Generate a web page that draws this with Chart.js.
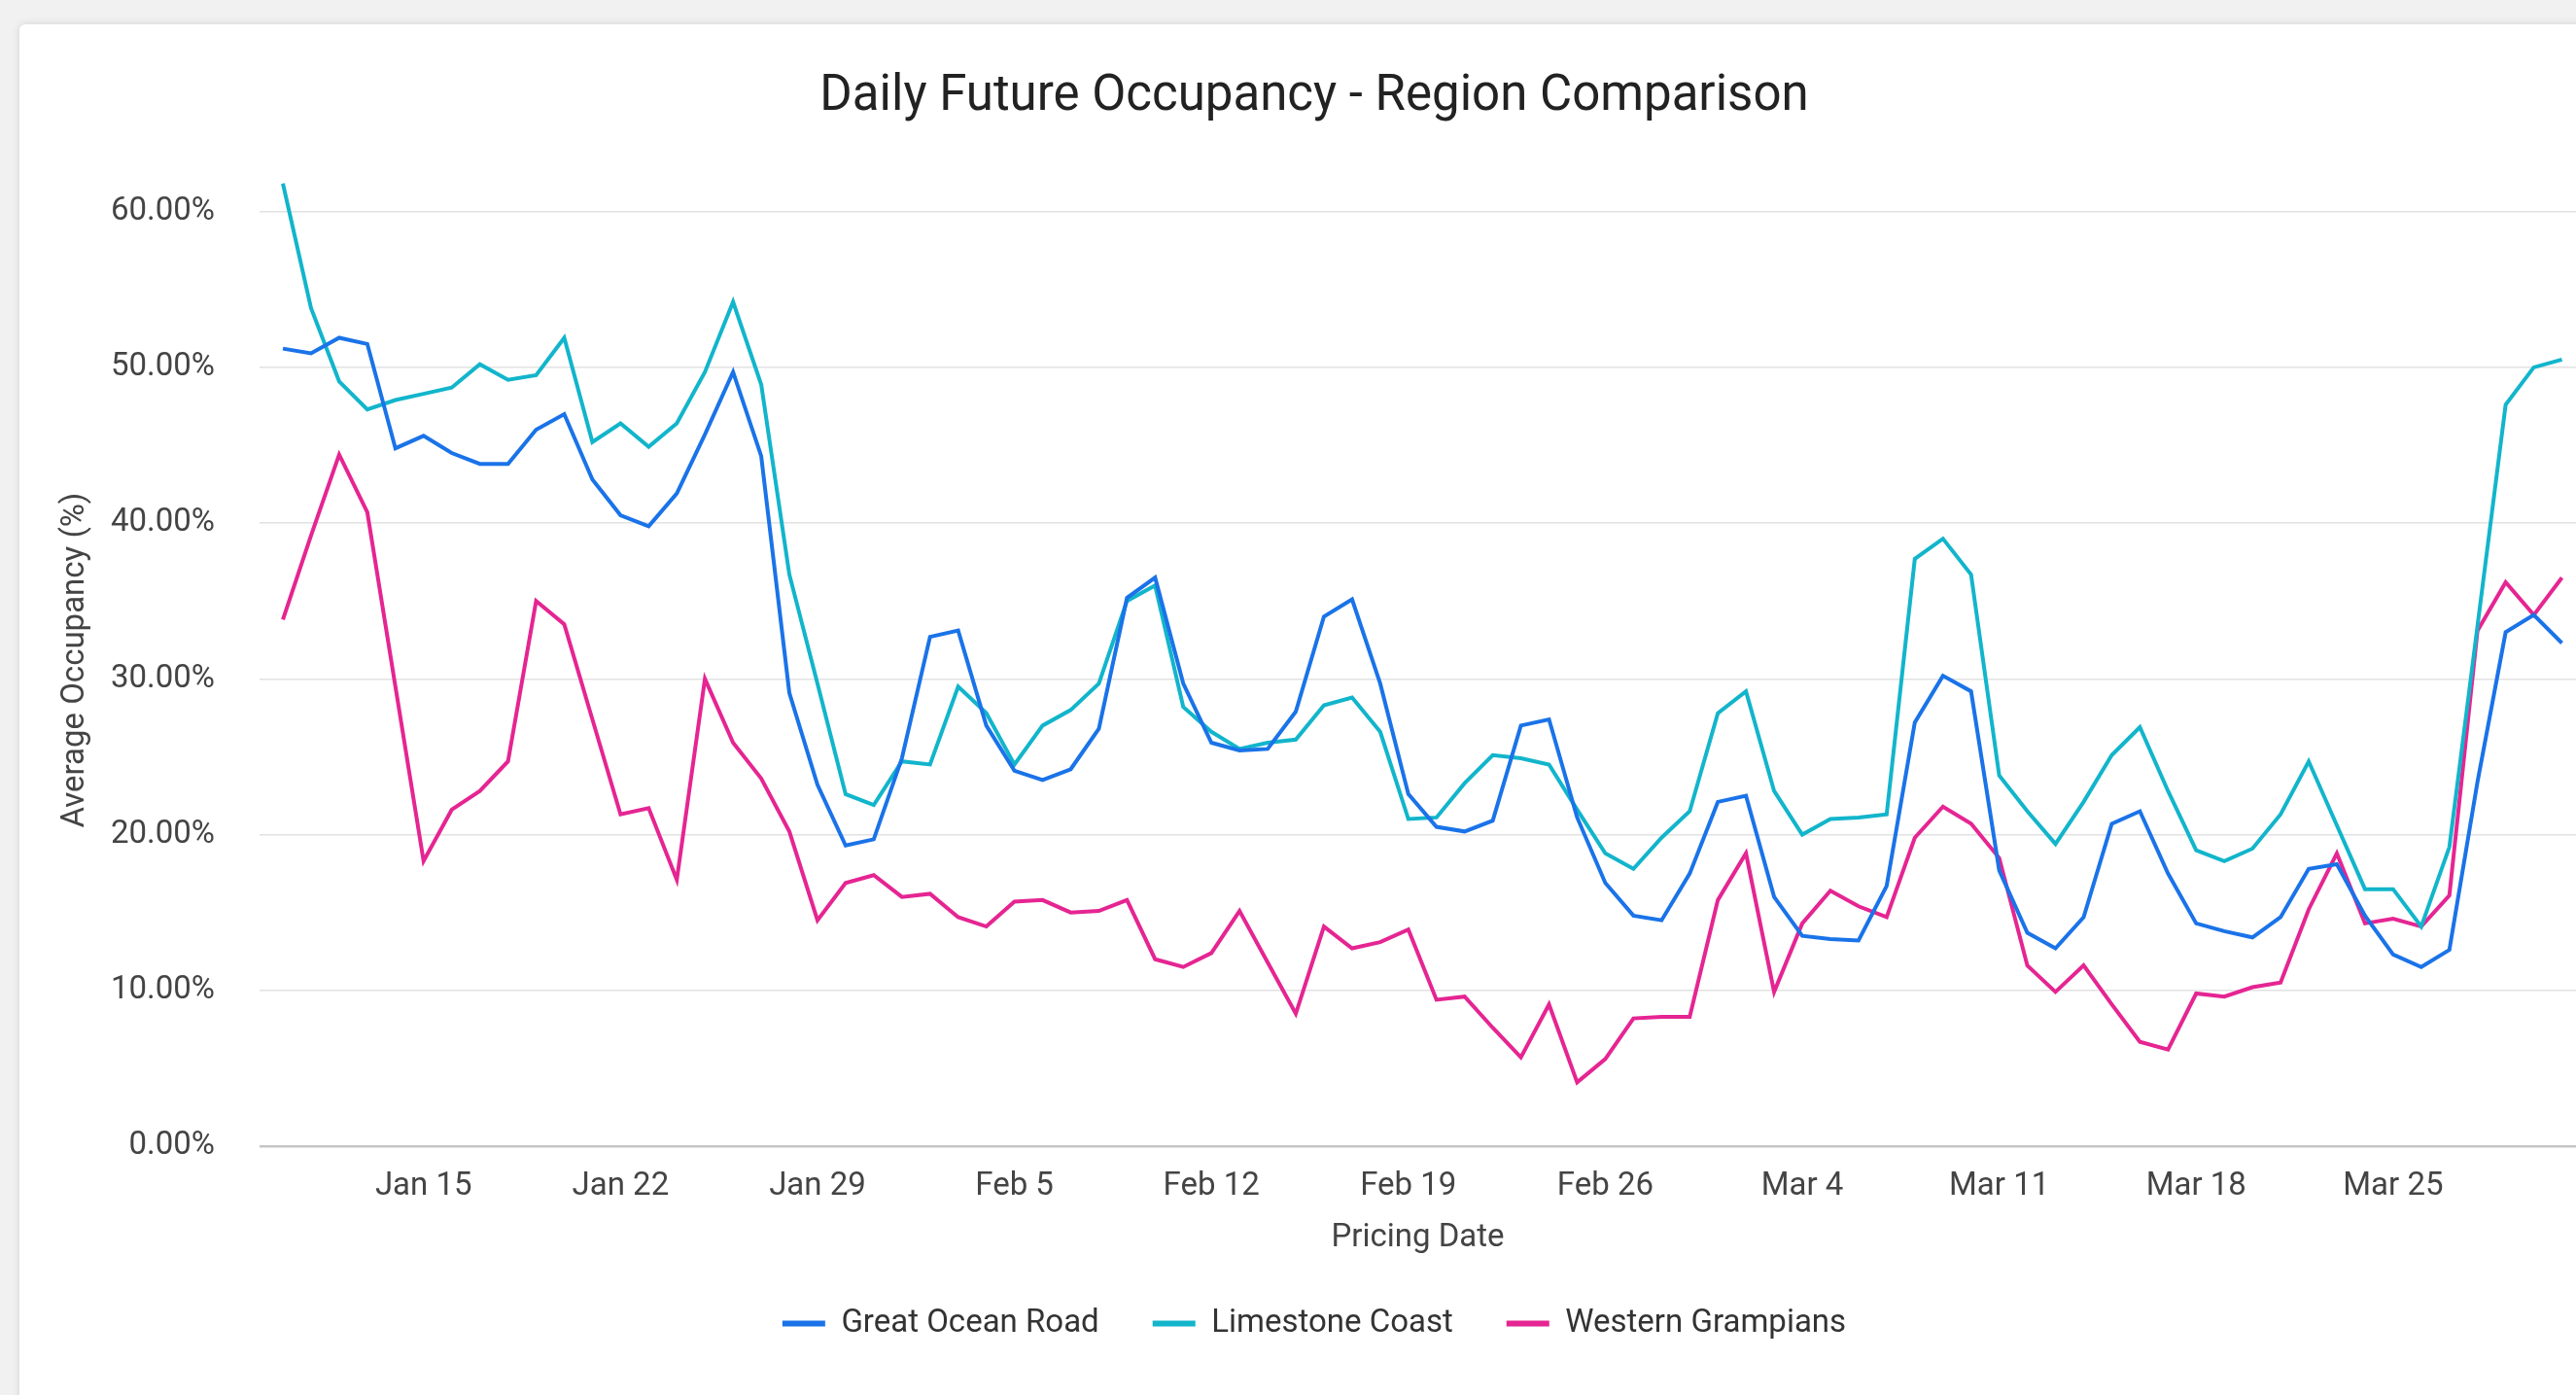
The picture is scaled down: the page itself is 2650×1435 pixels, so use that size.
<!DOCTYPE html>
<html>
<head>
<meta charset="utf-8">
<title>Daily Future Occupancy - Region Comparison</title>
<script src="https://cdn.jsdelivr.net/npm/chart.js@4.4.1/dist/chart.umd.min.js"></script>
<style>
  html, body { margin: 0; padding: 0; background: #f1f1f1; }
  body { width: 2650px; height: 1435px; position: relative; overflow: hidden; }
  #card {
    position: absolute; left: 20px; top: 25px; width: 2660px; height: 1440px;
    background: #fff; border-radius: 6px; box-shadow: 0 0 8px rgba(0, 0, 0, 0.13);
  }
  #wrap { position: absolute; left: 0; top: 0; width: 2650px; height: 1435px; }
</style>
</head>
<body>
<div id="card"></div>
<div id="wrap"><canvas id="occupancyChart"></canvas></div>
<script>
// pricing dates, Jan 10 - Mar 31 (one point per day)
var dates = [];
var d = new Date(2024, 0, 10);
var monthNames = ['Jan', 'Feb', 'Mar', 'Apr'];
while (d <= new Date(2024, 2, 31)) {
  dates.push(monthNames[d.getMonth()] + ' ' + d.getDate());
  d.setDate(d.getDate() + 1);
}

var tickLabels = ['Jan 15', 'Jan 22', 'Jan 29', 'Feb 5', 'Feb 12', 'Feb 19', 'Feb 26', 'Mar 4', 'Mar 11', 'Mar 18', 'Mar 25'];
var yTicks = [0, 10, 20, 30, 40, 50, 60];

var seriesNames = ['Great Ocean Road', 'Limestone Coast', 'Western Grampians'];
var seriesColors = ['#1a73e8', '#12b5cb', '#e52592'];

var greatOceanRoad = [
  51.2, 50.9, 51.9, 51.5, 44.8, 45.6, 44.5, 43.8, 43.8, 46.0,
  47.0, 42.8, 40.5, 39.8, 41.9, 45.7, 49.7, 44.3, 29.1, 23.2,
  19.3, 19.7, 24.9, 32.7, 33.1, 27.0, 24.1, 23.5, 24.2, 26.8,
  35.2, 36.5, 29.7, 25.9, 25.4, 25.5, 27.9, 34.0, 35.1, 29.7,
  22.6, 20.5, 20.2, 20.9, 27.0, 27.4, 21.1, 16.9, 14.8, 14.5,
  17.5, 22.1, 22.5, 16.0, 13.5, 13.3, 13.2, 16.7, 27.2, 30.2,
  29.2, 17.7, 13.7, 12.7, 14.7, 20.7, 21.5, 17.5, 14.3, 13.8,
  13.4, 14.7, 17.8, 18.1, 14.8, 12.3, 11.5, 12.6, 23.4, 33.0,
  34.1, 32.3
];
var limestoneCoast = [
  61.8, 53.8, 49.1, 47.3, 47.9, 48.3, 48.7, 50.2, 49.2, 49.5,
  51.9, 45.2, 46.4, 44.9, 46.4, 49.7, 54.2, 48.9, 36.7, 29.7,
  22.6, 21.9, 24.7, 24.5, 29.5, 27.8, 24.5, 27.0, 28.0, 29.7,
  35.0, 36.0, 28.2, 26.6, 25.5, 25.9, 26.1, 28.3, 28.8, 26.6,
  21.0, 21.1, 23.3, 25.1, 24.9, 24.5, 21.6, 18.8, 17.8, 19.8,
  21.5, 27.8, 29.2, 22.8, 20.0, 21.0, 21.1, 21.3, 37.7, 39.0,
  36.7, 23.8, 21.5, 19.4, 22.1, 25.1, 26.9, 22.8, 19.0, 18.3,
  19.1, 21.3, 24.7, 20.6, 16.5, 16.5, 14.1, 19.2, 33.4, 47.6,
  50.0, 50.5
];
var westernGrampians = [
  33.8, 39.2, 44.4, 40.7, 29.5, 18.3, 21.6, 22.8, 24.7, 35.0,
  33.5, 27.4, 21.3, 21.7, 17.1, 30.0, 25.9, 23.6, 20.2, 14.5,
  16.9, 17.4, 16.0, 16.2, 14.7, 14.1, 15.7, 15.8, 15.0, 15.1,
  15.8, 12.0, 11.5, 12.4, 15.1, 11.8, 8.5, 14.1, 12.7, 13.1,
  13.9, 9.4, 9.6, 7.6, 5.7, 9.1, 4.1, 5.6, 8.2, 8.3,
  8.3, 15.8, 18.8, 9.9, 14.3, 16.4, 15.4, 14.7, 19.8, 21.8,
  20.7, 18.5, 11.6, 9.9, 11.6, 9.1, 6.7, 6.2, 9.8, 9.6,
  10.2, 10.5, 15.2, 18.8, 14.3, 14.6, 14.1, 16.1, 33.1, 36.2,
  34.1, 36.5
];
var seriesValues = [greatOceanRoad, limestoneCoast, westernGrampians];

function toPoints(values) {
  return values.map(function(v, i) { return { x: i, y: v }; });
}

var datasets = seriesNames.map(function(name, k) {
  return {
    label: name,
    data: toPoints(seriesValues[k]),
    borderColor: seriesColors[k],
    backgroundColor: seriesColors[k],
    borderWidth: 4,
    pointRadius: 0,
    pointHoverRadius: 0,
    tension: 0
  };
});

Chart.defaults.font.family = 'Roboto, "Noto Sans", sans-serif';
Chart.defaults.font.size = 33;
Chart.defaults.color = '#444';

var ctx = document.getElementById('occupancyChart');
var occupancyChart = new Chart(ctx, {
  type: 'line',
  data: { datasets: datasets },
  options: {
    responsive: true,
    maintainAspectRatio: false,
    animation: false,
    layout: { padding: { left: 54, right: 0, top: 0, bottom: 47 } },
    scales: {
      x: {
        type: 'linear',
        min: -0.83,
        max: 81.5,
        afterBuildTicks: function(scale) {
          scale.ticks = tickLabels.map(function(l) { return { value: dates.indexOf(l) }; });
        },
        // fixed axis height so the plot bottom lands where the reference has it
        afterFit: function(scale) { scale.height = 111; },
        ticks: {
          padding: 14,
          maxRotation: 0,
          autoSkip: false,
          callback: function(value) { return dates[value]; }
        },
        grid: { display: false },
        border: { display: false },
        title: {
          display: true,
          text: 'Pricing Date',
          color: '#444',
          padding: { top: 10, bottom: -4 }
        }
      },
      y: {
        min: 0,
        max: 62.4,
        afterBuildTicks: function(scale) {
          scale.ticks = yTicks.map(function(v) { return { value: v }; });
        },
        afterFit: function(scale) { scale.width = 213; },
        ticks: {
          padding: 46,
          callback: function(value) { return value.toFixed(2) + '%'; }
        },
        grid: {
          drawTicks: false,
          color: function(c) { return c.tick && c.tick.value === 0 ? '#c6c6c6' : '#e2e2e2'; },
          lineWidth: function(c) { return c.tick && c.tick.value === 0 ? 2.5 : 1.5; }
        },
        border: { display: false },
        title: {
          display: true,
          text: 'Average Occupancy (%)',
          color: '#444',
          padding: { top: 4, bottom: 0 }
        }
      }
    },
    plugins: {
      title: {
        display: true,
        text: 'Daily Future Occupancy - Region Comparison',
        color: '#222',
        font: { size: 51, weight: 'normal' },
        padding: { top: 70, bottom: 48 }
      },
      legend: {
        position: 'bottom',
        labels: {
          boxWidth: 44,
          boxHeight: 6,
          padding: 55,
          color: '#333',
          generateLabels: function(chart) {
            return Chart.defaults.plugins.legend.labels.generateLabels(chart).map(function(l) {
              l.lineWidth = 0;
              return l;
            });
          }
        }
      },
      tooltip: { enabled: false }
    }
  }
});
</script>
</body>
</html>
